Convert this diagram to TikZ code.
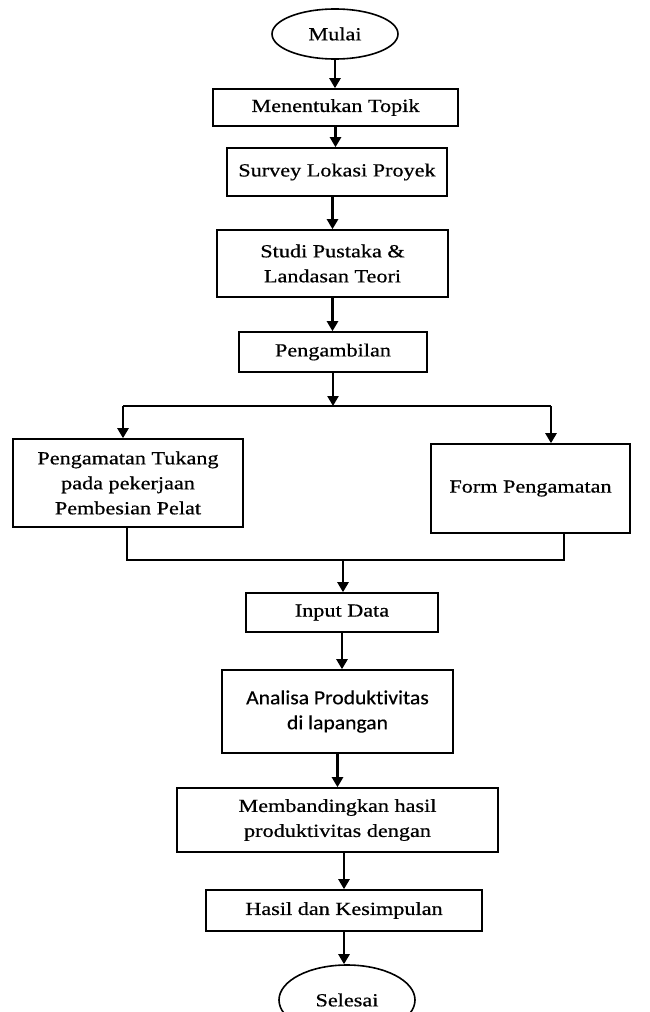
\documentclass[tikz,border=0pt]{standalone}
\usepackage{fontspec}
\setmainfont{Liberation Serif}[FakeStretch=1.2,FakeBold=0.6]
\newfontfamily\carl{Carlito}[FakeStretch=1.08,FakeBold=0.4,Ligatures=NoCommon]
\usetikzlibrary{arrows.meta,shapes.geometric}
\begin{document}
\begin{tikzpicture}[x=1pt,y=-1pt,
 box/.style={draw,line width=1.6pt,inner sep=0pt,align=center,font=\fontsize{18.5}{25}\selectfont},
 term/.style={draw,ellipse,line width=1.6pt,inner sep=0pt,font=\fontsize{18.5}{25}\selectfont},
 arr/.style={line width=2.4pt,-{Triangle[width=11pt,length=10pt]}},
 conn/.style={line width=2.4pt}]
\useasboundingbox (0,0) rectangle (649,1012);
\clip (0,0) rectangle (649,1012);
\node[term,minimum width=126pt,minimum height=50pt] (mulai) at (335,34) {Mulai};
\node[box,minimum width=245pt,minimum height=37pt] (topik) at (335.5,107.5) {Menentukan Topik};
\node[box,minimum width=220pt,minimum height=48pt] (survey) at (337,172) {Survey Lokasi Proyek};
\node[box,minimum width=231pt,minimum height=67pt] (studi) at (332.5,263.5) {Studi Pustaka \&\\Landasan Teori};
\node[box,minimum width=188pt,minimum height=40pt] (ambil) at (333,352) {Pengambilan};
\coordinate (split) at (333,406);
\coordinate (bl) at (123,406);
\coordinate (br) at (551,406);
\node[box,minimum width=230pt,minimum height=88pt] (tukang) at (128,483) {Pengamatan Tukang\\pada pekerjaan\\Pembesian Pelat};
\node[box,minimum width=199pt,minimum height=89pt] (form) at (530.5,488.5) {Form Pengamatan};
\coordinate (jl) at (127,560);
\coordinate (jr) at (564,560);
\coordinate (join) at (343,560);
\node[box,minimum width=192pt,minimum height=39pt] (input) at (342,612.5) {Input Data};
\node[box,minimum width=231pt,minimum height=83pt,font=\carl\fontsize{20}{25}\selectfont] (analisa) at (337.5,711.5) {Analisa Produktivitas\\di lapangan};
\node[box,minimum width=321pt,minimum height=64pt] (banding) at (337.5,820) {Membandingkan hasil\\produktivitas dengan};
\node[box,minimum width=276pt,minimum height=41pt] (hasil) at (344,910.5) {Hasil dan Kesimpulan};
\node[term,minimum width=136pt,minimum height=70pt] (selesai) at (347,1000) {Selesai};
\draw[arr] (mulai.south) -- (mulai.south |- topik.north);
\draw[arr] (topik.south) -- (topik.south |- survey.north);
\draw[arr] (studi.north |- survey.south) -- (studi.north);
\draw[arr] (studi.south) -- (studi.south |- ambil.north);
\draw[arr] (ambil.south) -- (split);
\draw[conn] (bl) -- (br);
\draw[arr] (bl) -- (bl |- tukang.north);
\draw[arr] (br) -- (br |- form.north);
\draw[conn] (jl |- tukang.south) -- (jl) -- (jr) -- (jr |- form.south);
\draw[arr] (join) -- (join |- input.north);
\draw[arr] (input.south) -- (input.south |- analisa.north);
\draw[arr] (analisa.south) -- (analisa.south |- banding.north);
\draw[arr] (hasil.north |- banding.south) -- (hasil.north);
\draw[arr] (hasil.south) -- (hasil.south |- selesai.north);
\end{tikzpicture}
\end{document}
